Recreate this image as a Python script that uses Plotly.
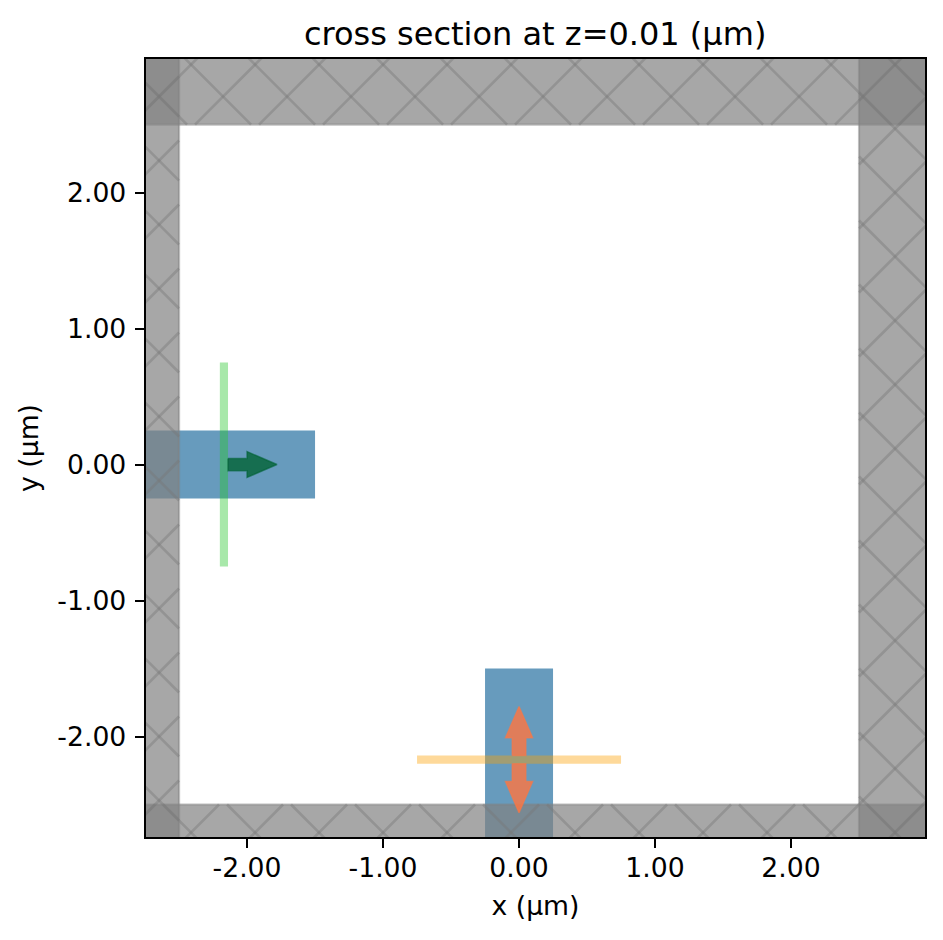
import plotly.graph_objects as go

# axis
x_range = [-2.743, 2.985]
y_range = [-2.739, 2.982]
tick_vals = [-2, -1, 0, 1, 2]
tick_text = ["-2.00", "-1.00", "0.00", "1.00", "2.00"]

# structures (x0, x1, y0, y1)
waveguides = [(-3.5, -1.5, -0.25, 0.25), (-0.25, 0.25, -3.5, -1.5)]
pml_bands = [
    (-3.5, 3.5, 2.5, 3.5),
    (-3.5, 3.5, -3.5, -2.5),
    (-3.5, -2.5, -3.5, 3.5),
    (2.5, 3.5, -3.5, 3.5),
]
source_box = (-2.2, -2.14, -0.75, 0.75)
monitor_box = (-0.75, 0.75, -2.2, -2.14)

# arrows, outline of each one
source_arrow_x = [-2.14, -2.0, -2.0, -1.78, -2.0, -2.0, -2.14]
source_arrow_y = [0.045, 0.045, 0.095, 0.0, -0.095, -0.045, -0.045]
monitor_up_x = [-0.05, -0.05, -0.1, 0.0, 0.1, 0.05, 0.05]
monitor_up_y = [-2.14, -2.01, -2.01, -1.78, -2.01, -2.01, -2.14]
monitor_down_x = [-0.05, -0.05, -0.1, 0.0, 0.1, 0.05, 0.05]
monitor_down_y = [-2.2, -2.33, -2.33, -2.56, -2.33, -2.33, -2.2]

# hatch spacing and offsets
hatch_step = 0.4706
hatch_up = 0.0588
hatch_down = 0.2941


def add_box(fig, box, fill, line=None, width=0):
    x0, x1, y0, y1 = box
    fig.add_trace(go.Scatter(
        x=[x0, x1, x1, x0, x0], y=[y0, y0, y1, y1, y0],
        mode="lines", fill="toself", fillcolor=fill,
        line=dict(color=line if line else fill, width=width),
        hoverinfo="skip", showlegend=False))


def add_arrow(fig, x, y, fill, line):
    fig.add_trace(go.Scatter(
        x=x + x[:1], y=y + y[:1],
        mode="lines", fill="toself", fillcolor=fill,
        line=dict(color=line, width=1.5),
        hoverinfo="skip", showlegend=False))


def hatch_lines(box):
    # x pattern inside a box, both directions
    x0, x1, y0, y1 = box
    x0 = max(x0, x_range[0] - 0.1)
    x1 = min(x1, x_range[1] + 0.1)
    y0 = max(y0, y_range[0] - 0.1)
    y1 = min(y1, y_range[1] + 0.1)
    xs, ys = [], []
    for n in range(-30, 31):
        # x + y = c
        c = hatch_up + n * hatch_step
        a = max(x0, c - y1)
        b = min(x1, c - y0)
        if a < b:
            xs += [a, b, None]
            ys += [c - a, c - b, None]
        # x - y = c
        c = hatch_down + n * hatch_step
        a = max(x0, c + y0)
        b = min(x1, c + y1)
        if a < b:
            xs += [a, b, None]
            ys += [a - c, b - c, None]
    return xs, ys


fig = go.Figure()

for w in waveguides:
    add_box(fig, w, "rgb(103,155,189)")

for band in pml_bands:
    add_box(fig, band, "rgba(130,130,130,0.7)", "rgba(130,130,130,0.5)", 2.2)
    hx, hy = hatch_lines(band)
    fig.add_trace(go.Scatter(
        x=hx, y=hy, mode="lines",
        line=dict(color="rgba(120,120,120,0.42)", width=2.6),
        hoverinfo="skip", showlegend=False))

add_box(fig, source_box, "rgba(37,197,42,0.4)")
add_box(fig, monitor_box, "rgba(252,160,2,0.4)")

add_arrow(fig, source_arrow_x, source_arrow_y, "rgba(2,99,53,0.8)", "rgba(2,99,53,0.6)")
add_arrow(fig, monitor_up_x, monitor_up_y, "rgba(255,118,65,0.8)", "rgba(255,118,65,0.6)")
add_arrow(fig, monitor_down_x, monitor_down_y, "rgba(255,118,65,0.8)", "rgba(255,118,65,0.6)")

axis_style = dict(
    tickmode="array", tickvals=tick_vals, ticktext=tick_text,
    ticks="outside", ticklen=9.3, tickwidth=2.1, tickcolor="black",
    showline=True, linecolor="black", linewidth=2.1, mirror=True,
    showgrid=False, zeroline=False,
    tickfont=dict(family="DejaVu Sans", size=26.67, color="black"),
)
fig.update_xaxes(range=x_range, ticklabelstandoff=-3, title=dict(text="x (µm)", standoff=14,
                 font=dict(family="DejaVu Sans", size=26.67, color="black")), **axis_style)
fig.update_yaxes(range=y_range, ticklabelstandoff=3, title=dict(text="y (µm)", standoff=11,
                 font=dict(family="DejaVu Sans", size=26.67, color="black")), **axis_style)

fig.update_layout(
    width=943, height=940,
    margin=dict(l=146, r=18, t=59, b=103, autoexpand=False),
    paper_bgcolor="white", plot_bgcolor="white",
    showlegend=False,
    title=dict(text="cross section at z=0.01 (µm)", x=0.5675, xanchor="center",
               y=0.9645, yanchor="middle",
               font=dict(family="DejaVu Sans", size=32, color="black")),
)

fig.write_html("out.html", config={"displayModeBar": False},
               post_script="document.body.style.margin='0';")
